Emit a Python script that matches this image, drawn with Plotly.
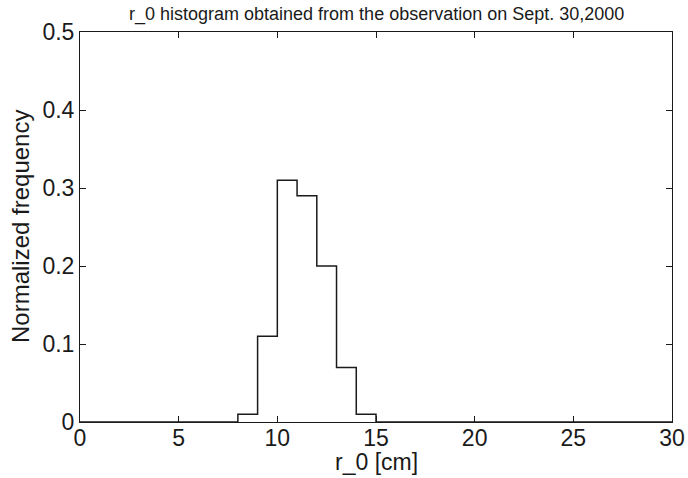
import plotly.graph_objects as go

bin_edges = list(range(0, 31))
freq = [0]*8 + [0.01, 0.11, 0.31, 0.29, 0.20, 0.07, 0.01] + [0]*15
x_ticks = [0, 5, 10, 15, 20, 25, 30]
y_ticks = [0, 0.1, 0.2, 0.3, 0.4, 0.5]
y_tick_text = ["0", "0.1", "0.2", "0.3", "0.4", "0.5"]

ys = freq + [freq[-1]]

ink = "#1a1a1a"
fig = go.Figure()
fig.add_trace(go.Scatter(x=bin_edges, y=ys, mode="lines", line=dict(shape="hv", color=ink, width=1.5),
                         showlegend=False, hoverinfo="skip", cliponaxis=False))

font = "Liberation Sans, Arial, sans-serif"
fig.update_layout(
    width=688, height=478,
    margin=dict(l=80, r=16, t=32, b=56, autoexpand=False),
    paper_bgcolor="white", plot_bgcolor="white",
    font=dict(family=font, color=ink),
)
fig.add_annotation(text="r_0 histogram obtained from the observation on Sept. 30,2000",
                   xref="paper", yref="paper", x=0.5, y=1.0, yshift=5, xanchor="center", yanchor="bottom",
                   showarrow=False, font=dict(size=18))
fig.add_annotation(text="r_0 [cm]", xref="paper", yref="paper", x=0.5, y=0, yshift=-55,
                   xanchor="center", yanchor="bottom", showarrow=False, font=dict(size=23))
fig.add_annotation(text="Normalized frequency", xref="paper", yref="paper", x=0, xshift=-60,
                   y=0.5, xanchor="center", yanchor="middle", textangle=-90, showarrow=False,
                   font=dict(size=24))
fig.update_xaxes(range=[0, 30], tickvals=x_ticks, ticks="inside", ticklen=6, tickcolor=ink,
                 showline=True, linecolor=ink, linewidth=1, mirror="ticks", showgrid=False,
                 zeroline=False, tickfont=dict(size=23), automargin=False, ticklabelstandoff=-5)
fig.update_yaxes(range=[0, 0.5], tickvals=y_ticks, ticktext=y_tick_text, ticks="inside", ticklen=6,
                 tickcolor=ink, showline=True, linecolor=ink, linewidth=1, mirror="ticks",
                 showgrid=False, zeroline=False, tickfont=dict(size=23), automargin=False)
fig.write_html("out.html", config={"displayModeBar": False},
               post_script="document.body.style.margin='0px';document.body.style.overflow='hidden';")
